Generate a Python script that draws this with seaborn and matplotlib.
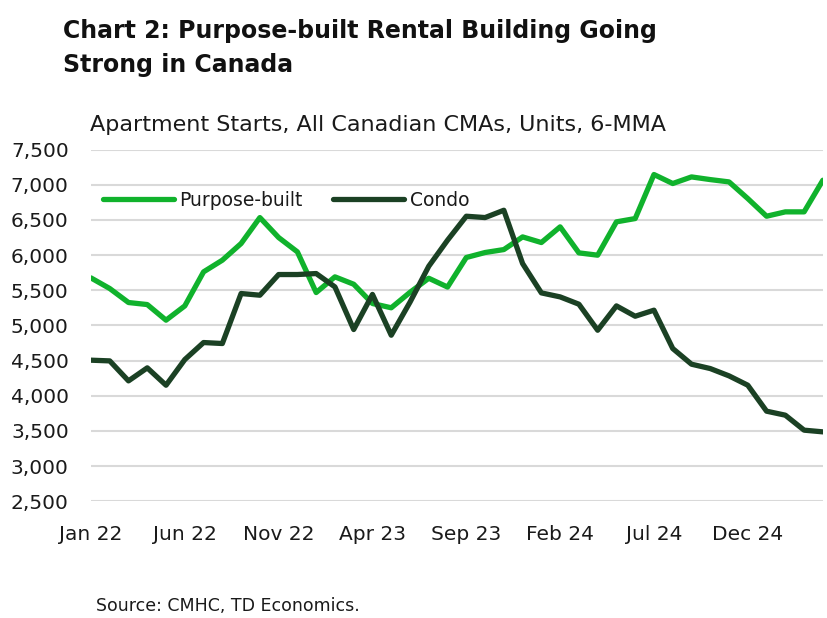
import matplotlib
matplotlib.use("Agg")
import matplotlib.pyplot as plt
import seaborn as sns
import pandas as pd

months = list(pd.date_range("2022-01-01", periods=40, freq="MS").strftime("%b %y"))
purpose_built = [5675, 5524, 5325, 5296, 5074, 5277, 5761, 5927, 6164, 6533,
                 6249, 6045, 5467, 5690, 5585, 5311, 5250, 5470, 5670, 5545,
                 5965, 6036, 6078, 6258, 6178, 6401, 6031, 5998, 6472, 6519,
                 7145, 7017, 7111, 7073, 7040, 6803, 6552, 6614, 6614, 7064]
condo = [4505, 4495, 4211, 4396, 4149, 4514, 4756, 4742, 5453, 5429,
         5723, 5723, 5737, 5547, 4941, 5440, 4860, 5330, 5841, 6211,
         6552, 6533, 6637, 5879, 5462, 5405, 5301, 4931, 5277, 5130,
         5216, 4671, 4448, 4386, 4282, 4149, 3780, 3723, 3510, 3486]
series_names = ["Purpose-built", "Condo"]
xtick_labels = ["Jan 22", "Jun 22", "Nov 22", "Apr 23", "Sep 23", "Feb 24", "Jul 24", "Dec 24"]
ytick_values = [2500, 3000, 3500, 4000, 4500, 5000, 5500, 6000, 6500, 7000, 7500]

df = pd.DataFrame({
    "idx": list(range(len(months))) * 2,
    "month": months * 2,
    "value": purpose_built + condo,
    "series": [series_names[0]] * len(months) + [series_names[1]] * len(months),
})

sns.set_theme(style="white")
plt.rcParams["font.family"] = ["DejaVu Sans"]

fig = plt.figure(figsize=(8.27, 6.18), dpi=100)
ax = fig.add_axes([0.110, 0.189, 0.885, 0.569])

palette = {"Purpose-built": "#10b22c", "Condo": "#1b4124"}
sns.lineplot(data=df, x="idx", y="value", hue="series", palette=palette,
             linewidth=3.8, ax=ax, legend=True)
for ln in ax.get_lines():
    ln.set_solid_capstyle("round")
    ln.set_solid_joinstyle("round")

ax.set_xlim(0, len(months) - 1)
ax.set_ylim(2500, 7500)
tick_pos = [months.index(t) for t in xtick_labels]
ax.set_xticks(tick_pos)
ax.set_xticklabels(xtick_labels)
ax.set_yticks(ytick_values)
ax.set_yticklabels([f"{v:,}" for v in ytick_values])
ax.tick_params(axis="both", labelsize=14.5, colors="#1a1a1a", length=0)
ax.tick_params(axis="y", pad=16)
ax.tick_params(axis="x", pad=17)
ax.set_xlabel("")
ax.set_ylabel("")
for s in ax.spines.values():
    s.set_visible(False)
ax.yaxis.grid(True, color="#d9d9d9", linewidth=1.5)
ax.xaxis.grid(False)
ax.set_axisbelow(True)

leg = ax.legend(ncol=2, frameon=False, loc="center left",
                bbox_to_anchor=(0.016, 0.855), borderaxespad=0, borderpad=0,
                handlelength=3.8, handletextpad=0.3, columnspacing=1.6,
                fontsize=13.5)
for h in leg.get_lines():
    h.set_solid_capstyle("round")
    h.set_linewidth(3.8)
for t in leg.get_texts():
    t.set_color("#1a1a1a")

title_kw = dict(fontsize=17, fontweight="bold", family=["DejaVu Sans"],
                va="baseline", ha="left", color="#111111")
fig.text(0.076, 1 - 38 / 618, "Chart 2: Purpose-built Rental Building Going", **title_kw)
fig.text(0.076, 1 - 72 / 618, "Strong in Canada", **title_kw)
fig.text(0.109, 0.798, "Apartment Starts, All Canadian CMAs, Units, 6-MMA",
         fontsize=16, va="center", ha="left", color="#1a1a1a")
fig.text(0.116, 0.019, "Source: CMHC, TD Economics.", fontsize=12.5,
         va="center", ha="left", color="#1a1a1a")

fig.savefig("out.png", dpi=100)
